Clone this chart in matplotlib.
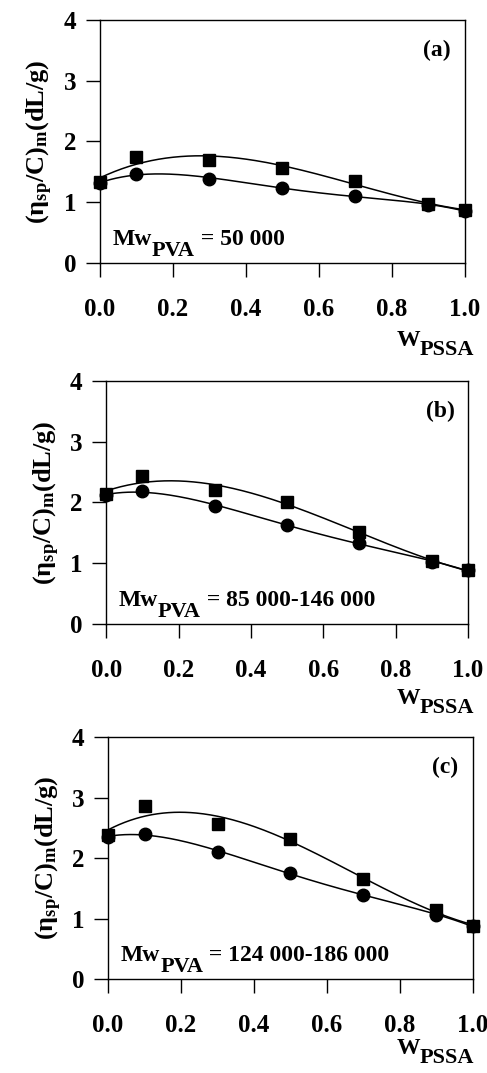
import numpy as np
import matplotlib.pyplot as plt

plt.rcParams['font.family'] = 'Liberation Serif'
plt.rcParams['font.weight'] = 'bold'
plt.rcParams['mathtext.fontset'] = 'custom'
plt.rcParams['mathtext.rm'] = 'Liberation Serif:bold'
plt.rcParams['mathtext.it'] = 'Liberation Serif:bold'
plt.rcParams['mathtext.bf'] = 'Liberation Serif:bold'

w_pssa = [0.0, 0.1, 0.3, 0.5, 0.7, 0.9, 1.0]

sq_a = [1.33, 1.75, 1.70, 1.56, 1.35, 0.97, 0.87]
ci_a = [1.31, 1.47, 1.38, 1.24, 1.10, 0.95, 0.86]
sq_b = [2.14, 2.43, 2.20, 2.00, 1.52, 1.03, 0.88]
ci_b = [2.12, 2.19, 1.94, 1.63, 1.33, 1.02, 0.88]
sq_c = [2.38, 2.86, 2.57, 2.31, 1.66, 1.14, 0.87]
ci_c = [2.35, 2.40, 2.10, 1.75, 1.39, 1.06, 0.87]

panels = ['(a)', '(b)', '(c)']
mw_text = ['= 50 000', '= 85 000-146 000', '= 124 000-186 000']
squares = [sq_a, sq_b, sq_c]
circles = [ci_a, ci_b, ci_c]

# axes boxes in figure fraction
boxes = [[0.205, 0.755, 0.749, 0.2265],
         [0.218, 0.4185, 0.743, 0.2265],
         [0.222, 0.0876, 0.749, 0.2255]]
# W_PSSA label y (pixels from top)
wlab_y = [350, 708, 1058]

fig = plt.figure(figsize=(4.87, 10.73), dpi=100)
x = np.array(w_pssa)
xs = np.linspace(0, 1, 200)
fs = 17

for i in range(3):
    ax = fig.add_axes(boxes[i])
    for ys, mk, deg in [(squares[i], 's', 3), (circles[i], 'o', 4)]:
        p = np.polyfit(x, ys, deg)
        ax.plot(xs, np.polyval(p, xs), color='k', lw=1.1)
        ax.plot(x, ys, mk, color='k', ms=9 if mk == 'o' else 8.5, clip_on=False, zorder=3)
    ax.set_xlim(0, 1)
    ax.set_ylim(0, 4)
    ax.set_xticks([0, 0.2, 0.4, 0.6, 0.8, 1.0])
    ax.set_xticklabels(['0.0', '0.2', '0.4', '0.6', '0.8', '1.0'])
    ax.set_yticks([0, 1, 2, 3, 4])
    ax.tick_params(axis='x', direction='out', length=10, width=1, pad=15, labelsize=18)
    ax.tick_params(axis='y', direction='out', length=10, width=1, pad=7, labelsize=18)
    for s in ax.spines.values():
        s.set_linewidth(1)
    ax.text(0.925, 3.5, panels[i], ha='center', va='center', fontsize=fs)
    t = ax.text(0.035, 0.3, 'Mw', ha='left', va='baseline', fontsize=fs)
    t2 = ax.annotate('PVA', xy=(1, 0), xycoords=t, xytext=(0, -1), textcoords='offset points',
                     ha='left', va='center', fontsize=fs - 1)
    ax.annotate(' ' + mw_text[i], xy=(1, 0), xycoords=(t2, t), xytext=(0, 0),
                textcoords='offset points', ha='left', va='bottom', fontsize=fs)
    ax.set_ylabel(r'$\mathrm{(\eta_{sp}/C)_m(dL/g)}$', fontsize=19, labelpad=6)
    ps = fig.text(0.974, 1 - wlab_y[i] / 1073, 'PSSA', ha='right', va='center', fontsize=fs - 1)
    ax.annotate('W', xy=(0, 0.5), xycoords=ps, xytext=(0, 7), textcoords='offset points',
                ha='right', va='center', fontsize=fs)

fig.savefig('out.png', dpi=100)
